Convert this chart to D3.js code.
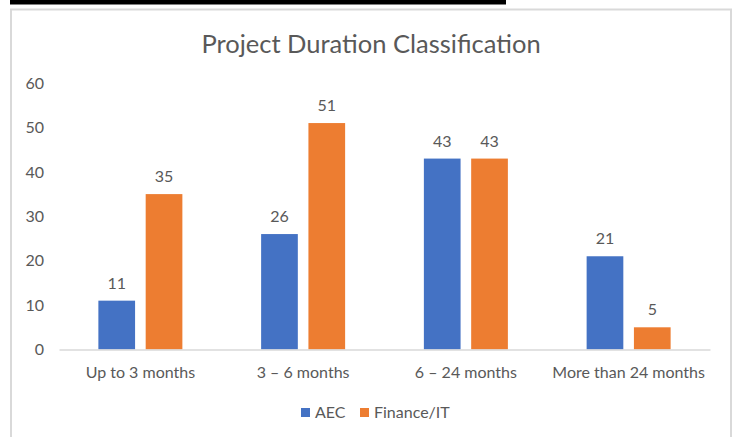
<!DOCTYPE html>
<html>
<head>
<meta charset="utf-8">
<script src="https://cdn.jsdelivr.net/npm/d3@7/dist/d3.min.js"></script>
<style>
  html, body { margin: 0; padding: 0; background: #fff; }
  svg { display: block; }
  text { font-family: Lato, "Open Sans", sans-serif; fill: #595959; }
</style>
</head>
<body>
<svg id="chart" width="741" height="437"></svg>
<script>
// Project duration counts by sector
const categories = ["Up to 3 months", "3 \u2013 6 months", "6 \u2013 24 months", "More than 24 months"];
const seriesNames = ["AEC", "Finance/IT"];
const aecValues = [11, 26, 43, 21];
const financeValues = [35, 51, 43, 5];
const yTicks = [0, 10, 20, 30, 40, 50, 60];
const colors = ["#4472C4", "#ED7D31"];

const svg = d3.select("#chart");

// top dark strip and the chart frame
svg.append("rect").attr("x", 10).attr("y", 0).attr("width", 496).attr("height", 4.5).attr("fill", "#000");
svg.append("rect").attr("x", 11).attr("y", 9.5).attr("width", 720).attr("height", 440)
  .attr("fill", "#fff").attr("stroke", "#d9d9d9").attr("stroke-width", 2);

const plot = { left: 59, right: 710, top: 83.1, bottom: 349.5 };

const x = d3.scaleBand().domain(categories).range([plot.left, plot.right]).paddingInner(0).paddingOuter(0);
const y = d3.scaleLinear().domain([0, 60]).range([plot.bottom, plot.top]);

const barW = 36.7, barGap = 10.6;
const sub = d3.scaleOrdinal().domain(seriesNames).range([-(barGap / 2 + barW), barGap / 2]);

// title
svg.append("text").attr("x", 371).attr("y", 53).attr("text-anchor", "middle")
  .style("font-size", "25.5px").text("Project Duration Classification");

// y axis labels (no axis line)
const yAxis = d3.axisLeft(y).tickValues(yTicks).tickSize(0).tickPadding(0);
const gy = svg.append("g").attr("transform", `translate(44,0)`).call(yAxis);
gy.select(".domain").remove();
gy.selectAll("text").style("font-size", "16px").attr("fill", "#595959").attr("font-family", null);

// bars
const rows = categories.map((c, i) => ({ cat: c, values: [aecValues[i], financeValues[i]] }));
const groups = svg.append("g").selectAll("g").data(rows).join("g")
  .attr("transform", d => `translate(${x(d.cat) + x.bandwidth() / 2},0)`);

groups.selectAll("rect").data(d => d.values.map((v, j) => ({ name: seriesNames[j], v, j })))
  .join("rect")
  .attr("x", d => sub(d.name))
  .attr("y", d => y(d.v))
  .attr("width", barW)
  .attr("height", d => y(0) - y(d.v))
  .attr("fill", d => colors[d.j]);

groups.selectAll("text.val").data(d => d.values.map((v, j) => ({ name: seriesNames[j], v, j })))
  .join("text").attr("class", "val")
  .attr("x", d => sub(d.name) + barW / 2)
  .attr("y", d => y(d.v) - 12)
  .attr("text-anchor", "middle")
  .style("font-size", "16px")
  .text(d => d.v);

// x axis
const xAxis = d3.axisBottom(x).tickSize(0).tickPadding(17);
const gx = svg.append("g").attr("transform", `translate(0,${plot.bottom})`).call(xAxis);
gx.select(".domain").attr("stroke", "#d9d9d9").attr("stroke-width", 1.5);
gx.selectAll("text").style("font-size", "16px").attr("fill", "#595959").attr("font-family", null);

// legend
const legendItems = [{ name: seriesNames[0], x: 301 }, { name: seriesNames[1], x: 360 }];
const lg = svg.append("g").selectAll("g").data(legendItems).join("g")
  .attr("transform", d => `translate(${d.x},408)`);
lg.append("rect").attr("width", 9).attr("height", 9).attr("fill", (d, i) => colors[i]);
lg.append("text").attr("x", 14).attr("y", 9.5).style("font-size", "16px").text(d => d.name);
</script>
</body>
</html>
